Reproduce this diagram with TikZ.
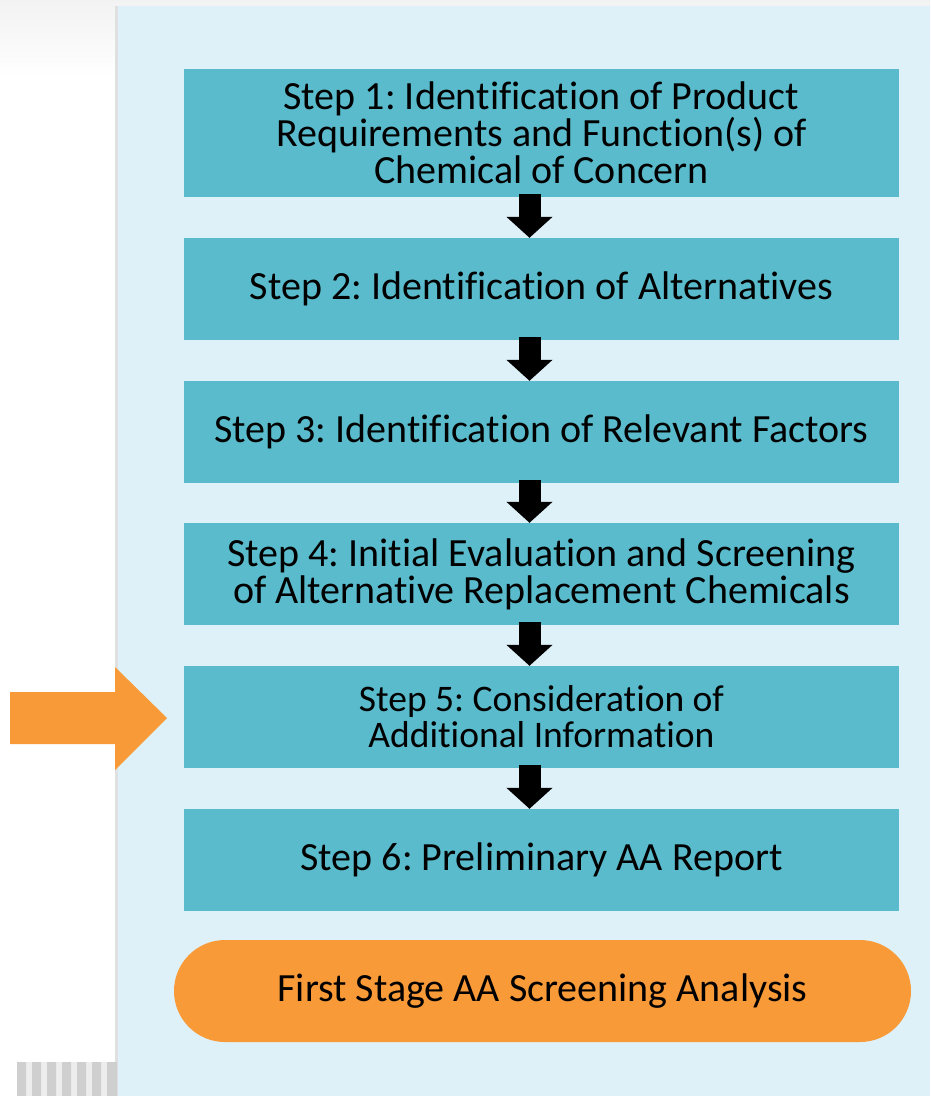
\documentclass[tikz,border=0pt]{standalone}
\usepackage{fontspec}
\setmainfont{Carlito}[Ligatures=CommonOff]
\usetikzlibrary{arrows.meta}
\usetikzlibrary{positioning}

\definecolor{panelblau}{HTML}{DEF1F8}
\definecolor{kasten}{HTML}{59BBCC}
\definecolor{signal}{HTML}{F99A38}

\tikzset{
  schritt/.style={fill=kasten, minimum width=715pt, inner sep=0pt, align=center,
    font=\fontsize{40}{37}\selectfont},
  pfeil/.style={line width=22pt, -{Triangle[width=45pt,length=21pt]}},
}
\frenchspacing

\begin{document}
\begin{tikzpicture}[x=1pt,y=-1pt]
  % Hintergrund
  \useasboundingbox (0,0) rectangle (930,1096);
  \shade[top color=black!5, bottom color=white] (0,0) rectangle (930,78);
  \fill[black!12] (115,6) rectangle (118,1096);
  \fill[panelblau] (118,6) rectangle (930,1096);

  % Streifen unten links
  \fill[black!7] (17,1062) rectangle (117,1096);
  \fill[black!19] (17,1062) rectangle (26,1096) (32,1062) rectangle (41,1096)
    (47,1062) rectangle (56,1096) (62,1062) rectangle (71,1096)
    (77,1062) rectangle (86,1096) (92,1062) rectangle (101,1096)
    (107,1062) rectangle (117,1096);

  % Schritte
  \node[schritt, minimum height=128pt] (s1) at (541.5,133)
    {Step 1: Identification of Product\\Requirements and Function(s) of\\Chemical of Concern};
  \node[schritt, minimum height=102pt] (s2) at (541.5,289) {Step 2: Identification of Alternatives};
  \node[schritt, minimum height=102pt] (s3) at (541.5,432) {Step 3: Identification of Relevant Factors};
  \node[schritt, minimum height=102pt] (s4) at (541.5,574)
    {Step 4: Initial Evaluation and Screening\\of Alternative Replacement Chemicals};
  \node[schritt, minimum height=102pt, font=\fontsize{37.5}{36}\selectfont] (s5) at (541.5,717)
    {Step 5: Consideration of\\Additional Information};
  \node[schritt, minimum height=102pt] (s6) at (541.5,860) {Step 6: Preliminary AA Report};

  % Ergebnis
  \node[fill=signal, rounded corners=51pt, minimum width=737pt, minimum height=102pt,
    inner sep=0pt, font=\fontsize{40}{44}\selectfont] (stufe) at (542.5,991)
    {First Stage AA Screening Analysis};

  % Pfeile zwischen den Schritten
  \draw[pfeil] ([xshift=-12pt,yshift=3pt]s1.south) -- ([xshift=-12pt]s2.north);
  \draw[pfeil] ([xshift=-12pt,yshift=3pt]s2.south) -- ([xshift=-12pt]s3.north);
  \draw[pfeil] ([xshift=-12pt,yshift=3pt]s3.south) -- ([xshift=-12pt]s4.north);
  \draw[pfeil] ([xshift=-12pt,yshift=3pt]s4.south) -- ([xshift=-12pt]s5.north);
  \draw[pfeil] ([xshift=-12pt,yshift=3pt]s5.south) -- ([xshift=-12pt]s6.north);

  % Markierung links
  \fill[signal] (10,692) -- (115,692) -- (115,667) -- (167,718) -- (115,770)
    -- (115,744) -- (10,744) -- cycle;
\end{tikzpicture}
\end{document}
